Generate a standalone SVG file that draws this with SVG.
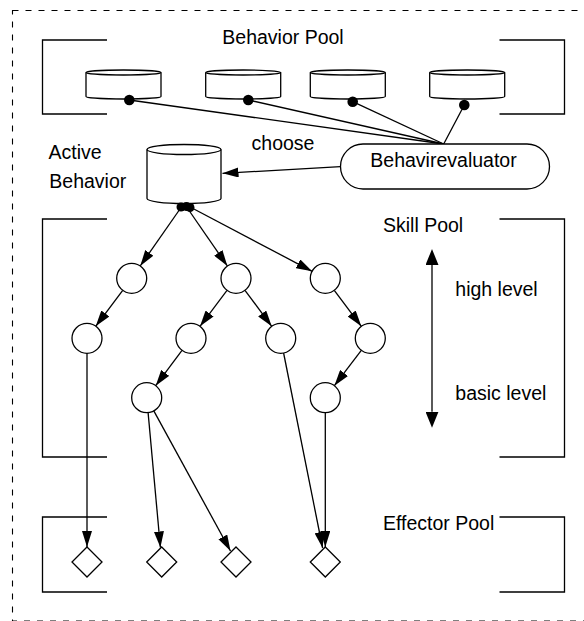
<svg xmlns="http://www.w3.org/2000/svg" width="584" height="621" viewBox="0 0 584 621">
<style>
.ln{stroke:#000;stroke-width:1.3;fill:none}
.sh{stroke:#000;stroke-width:1.3;fill:#fff}
.tx{font-family:"Liberation Sans",Arial,Helvetica,sans-serif;font-size:19.5px;fill:#000}
.ar{stroke:#000;stroke-width:1.3;fill:none;marker-end:url(#ah)}
</style>
<defs>
<marker id="ah" viewBox="0 0 16 10" refX="16" refY="5" markerWidth="16" markerHeight="10" markerUnits="userSpaceOnUse" orient="auto">
<path d="M0,0 L16,5 L0,10 Z" fill="#000"/>
</marker>
<marker id="ahs" viewBox="0 0 16 13" refX="0" refY="6.5" markerWidth="16" markerHeight="13" markerUnits="userSpaceOnUse" orient="auto-start-reverse">
<path d="M0,0 L16,6.5 L0,13 Z" fill="#000"/>
</marker>
</defs>
<rect id="frame" x="12.5" y="10.5" width="620" height="610.5" fill="none" stroke="#000" stroke-width="1.1" stroke-dasharray="6 7"/>

<g id="behavior-pool">
<path class="ln" d="M107,40 H42.5 V114 H107"/>
<path class="ln" d="M499.5,40 H564.5 V114 H499.5"/>
<text class="tx" x="283" y="43.5" text-anchor="middle">Behavior Pool</text>
</g>
<g id="skill-pool">
<path class="ln" d="M107,219 H42.5 V457 H107"/>
<path class="ln" d="M499.5,219 H564.5 V457 H499.5"/>
<text class="tx" x="383" y="231.5">Skill Pool</text>
</g>
<g id="effector-pool">
<path class="ln" d="M107,517 H42.5 V592 H107"/>
<path class="ln" d="M499.5,517 H564.5 V592 H499.5"/>
<text class="tx" x="383" y="529.5">Effector Pool</text>
</g>

<g id="connectors">
<line class="ln" x1="129.3" y1="100" x2="443.7" y2="144"/>
<line class="ln" x1="248.3" y1="100" x2="443.7" y2="144"/>
<line class="ln" x1="352.7" y1="101.7" x2="443.7" y2="144"/>
<line class="ln" x1="464.3" y1="105" x2="443.7" y2="144"/>
<line class="ar" x1="340.5" y1="166.7" x2="222.5" y2="173.3"/>
<line class="ar" x1="180" y1="209" x2="140.2" y2="266"/>
<line class="ar" x1="188" y1="209" x2="227.4" y2="266"/>
<line class="ar" x1="192" y1="208" x2="312.1" y2="271.3"/>
<line class="ar" x1="122.7" y1="290.3" x2="95.7" y2="326.3"/>
<line class="ar" x1="227" y1="290.3" x2="200" y2="326.3"/>
<line class="ar" x1="245" y1="290.3" x2="271.7" y2="326.3"/>
<line class="ar" x1="334.3" y1="290.3" x2="361.3" y2="326.3"/>
<line class="ar" x1="182" y1="350.3" x2="155.7" y2="385.7"/>
<line class="ar" x1="361.3" y1="350.3" x2="334.4" y2="385.7"/>
<line class="ar" x1="87" y1="353.3" x2="87" y2="547"/>
<line class="ar" x1="148.1" y1="412.6" x2="160.4" y2="547.5"/>
<line class="ar" x1="153.8" y1="410.9" x2="230.5" y2="551"/>
<line class="ar" x1="283.6" y1="353" x2="322.6" y2="548"/>
<line class="ar" x1="325.3" y1="412.7" x2="325.3" y2="547"/>
<line class="ln" x1="432" y1="265" x2="432" y2="411.7" marker-start="url(#ahs)" marker-end="url(#ahs)" style="stroke-dasharray:none"/>
</g>

<g id="behavior-1">
<path class="sh" d="M86,72.5 V96.5 A37.5,2.5 0 0 0 161,96.5 V72.5"/>
<ellipse class="sh" cx="123.5" cy="72.5" rx="37.5" ry="2.5"/>
<circle cx="129.3" cy="100" r="5.3" fill="#000"/>
</g>
<g id="behavior-2">
<path class="sh" d="M205.7,72.5 V96.5 A37.5,2.5 0 0 0 280.7,96.5 V72.5"/>
<ellipse class="sh" cx="243.2" cy="72.5" rx="37.5" ry="2.5"/>
<circle cx="248.3" cy="100" r="5.3" fill="#000"/>
</g>
<g id="behavior-3">
<path class="sh" d="M310.3,72.5 V96.5 A37.5,2.5 0 0 0 385.3,96.5 V72.5"/>
<ellipse class="sh" cx="347.8" cy="72.5" rx="37.5" ry="2.5"/>
<circle cx="352.7" cy="101.7" r="5.3" fill="#000"/>
</g>
<g id="behavior-4">
<path class="sh" d="M429.7,72.5 V96.5 A37.5,2.5 0 0 0 504.7,96.5 V72.5"/>
<ellipse class="sh" cx="467.2" cy="72.5" rx="37.5" ry="2.5"/>
<circle cx="464.3" cy="105" r="5.3" fill="#000"/>
</g>

<g id="evaluator">
<rect class="sh" x="340.5" y="144" width="209" height="45" rx="22.5" ry="22.5"/>
<text class="tx" x="443.5" y="166.7" text-anchor="middle">Behavirevaluator</text>
</g>
<text class="tx" x="283" y="150" text-anchor="middle" id="choose-label">choose</text>

<g id="active-behavior">
<path class="sh" d="M147,149.5 V198.5 A37,5 0 0 0 221,198.5 V149.5"/>
<ellipse class="sh" cx="184" cy="149.5" rx="37" ry="5"/>
<circle cx="181" cy="207" r="4.5" fill="#000"/>
<circle cx="186.5" cy="206.5" r="4.5" fill="#000"/>
<circle cx="190" cy="207.5" r="4.5" fill="#000"/>
<text class="tx" x="48.5" y="159.3">Active</text>
<text class="tx" x="49.3" y="188">Behavior</text>
</g>

<g id="skill-a"><circle class="sh" cx="131.7" cy="278.3" r="15"/></g>
<g id="skill-b"><circle class="sh" cx="236" cy="278.3" r="15"/></g>
<g id="skill-c"><circle class="sh" cx="325.3" cy="278.3" r="15"/></g>
<g id="skill-d"><circle class="sh" cx="87" cy="338.3" r="15"/></g>
<g id="skill-e"><circle class="sh" cx="191" cy="338.3" r="15"/></g>
<g id="skill-f"><circle class="sh" cx="280.7" cy="338.3" r="15"/></g>
<g id="skill-g"><circle class="sh" cx="146.7" cy="397.7" r="15"/></g>
<g id="skill-h"><circle class="sh" cx="370.3" cy="338.3" r="15"/></g>
<g id="skill-i"><circle class="sh" cx="325.3" cy="397.7" r="15"/></g>

<g id="effector-1"><path class="sh" d="M87,547 L102,562 L87,577 L72,562 Z"/></g>
<g id="effector-2"><path class="sh" d="M161.7,547 L176.7,562 L161.7,577 L146.7,562 Z"/></g>
<g id="effector-3"><path class="sh" d="M236,547 L251,562 L236,577 L221,562 Z"/></g>
<g id="effector-4"><path class="sh" d="M325.3,547 L340.3,562 L325.3,577 L310.3,562 Z"/></g>

<g id="level-labels">
<text class="tx" x="455.3" y="295.7">high level</text>
<text class="tx" x="455.3" y="400">basic level</text>
</g>
</svg>
